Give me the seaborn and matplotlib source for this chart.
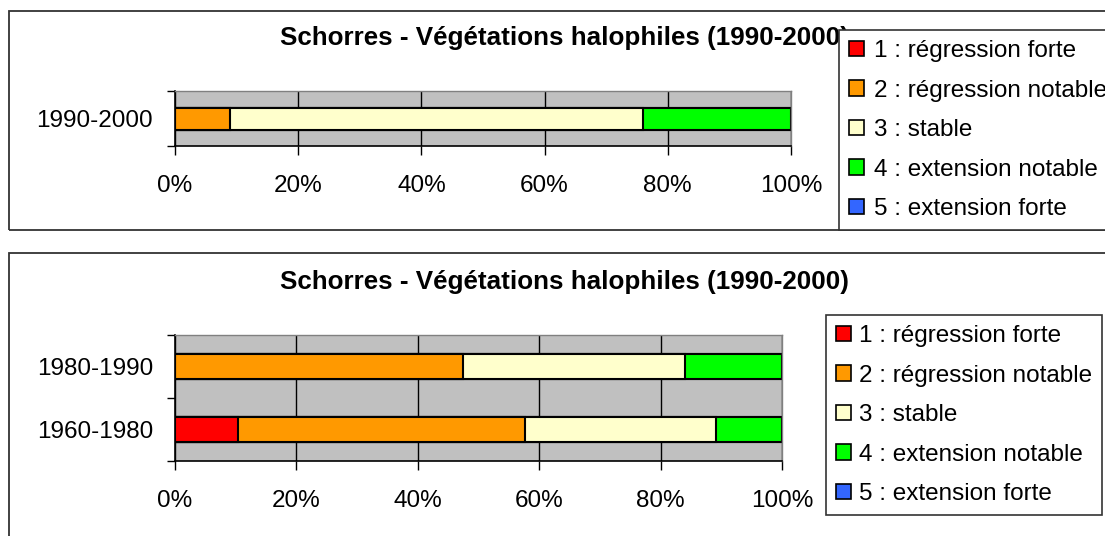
import matplotlib
matplotlib.use("Agg")
import matplotlib.pyplot as plt
from matplotlib.patches import Patch, Rectangle
import numpy as np
import seaborn as sns

# legend classes and their colours
classes = ["1 : régression forte", "2 : régression notable", "3 : stable",
           "4 : extension notable", "5 : extension forte"]
colors = ["#FF0000", "#FF9900", "#FFFFCC", "#00FF00", "#3366FF"]

title = "Schorres - Végétations halophiles (1990-2000)"

# share (%) of each class, one row per period
top_periods = ["1990-2000"]
top_values = [[0, 9, 67, 24, 0]]

bottom_periods = ["1980-1990", "1960-1980"]
bottom_values = [[0, 47.5, 36.5, 16, 0],
                 [10.4, 47.3, 31.5, 10.8, 0]]

xticks = [0, 20, 40, 60, 80, 100]
xtick_labels = [f"{v}%" for v in xticks]

plt.rcParams["font.family"] = ["Liberation Sans", "DejaVu Sans"]

W, H = 1105, 536
fig = plt.figure(figsize=(W / 100, H / 100), dpi=100)
fig.patch.set_facecolor("white")


def box(l, t, r, b):
    # pixel box (from top-left) -> figure fraction rect
    return [l / W, 1 - b / H, (r - l) / W, (b - t) / H]


def draw_panel(rect, periods, values):
    ax = fig.add_axes(rect)
    cum = np.array(values).cumsum(axis=1)
    # stacked bars: draw cumulative totals from the last class to the first
    for i in range(len(classes) - 1, -1, -1):
        sns.barplot(x=cum[:, i], y=periods, color=colors[i], saturation=1,
                    width=0.4, edgecolor="black", linewidth=1.5,
                    errorbar=None, orient="h", ax=ax)
    n = len(periods)
    ax.set_facecolor("#C0C0C0")
    ax.set_xlim(0, 100)
    ax.set_ylim(n - 0.5, -0.5)
    ax.set_xticks(xticks, xtick_labels)
    ax.set_yticks(range(n), periods)
    ax.set_yticks(np.arange(n + 1) - 0.5, minor=True)
    ax.set_xlabel("")
    ax.set_ylabel("")
    ax.grid(axis="x", color="black", linewidth=1)
    ax.set_axisbelow(True)
    ax.tick_params(axis="x", length=6.5, width=1, pad=14.5, labelsize=17.5)
    ax.tick_params(axis="y", which="major", length=0, pad=15.8, labelsize=17.5)
    ax.tick_params(axis="y", which="minor", length=5.8, width=1)
    for side in ["left", "bottom"]:
        ax.spines[side].set_color("black")
        ax.spines[side].set_linewidth(1.2)
    for side in ["top", "right"]:
        ax.spines[side].set_color("#808080")
        ax.spines[side].set_linewidth(1)
    return ax


def draw_frame(l, t, r, b):
    fig.add_artist(Rectangle((l / W, 1 - b / H), (r - l) / W, (b - t) / H,
                             transform=fig.transFigure, fill=False,
                             edgecolor="#333333", linewidth=1.3, zorder=0))


def draw_legend(x, y, textpad):
    handles = [Patch(facecolor=c, edgecolor="black", linewidth=1.2) for c in colors]
    leg = fig.legend(handles, classes, loc="upper left",
                     bbox_to_anchor=(x / W, 1 - y / H),
                     bbox_transform=fig.transFigure, borderaxespad=0,
                     frameon=True, fancybox=False, framealpha=1,
                     edgecolor="#333333", fontsize=17.5,
                     handlelength=0.6, handleheight=0.6, handletextpad=textpad,
                     borderpad=0.42, labelspacing=0.72)
    leg.get_frame().set_linewidth(1.2)
    return leg


# top panel
draw_frame(9, 11, 1200, 230)
draw_panel(box(175, 91, 791, 146), top_periods, top_values)
fig.text(564 / W, 1 - 45 / H, title, ha="center", va="baseline",
         fontsize=18.7, fontweight="bold")
draw_legend(839, 30, 0.42)

# bottom panel
draw_frame(9, 253, 1200, 600)
draw_panel(box(175, 335, 782, 461), bottom_periods, bottom_values)
fig.text(564 / W, 1 - 289 / H, title, ha="center", va="baseline",
         fontsize=18.7, fontweight="bold")
draw_legend(826, 315, 0.33)

fig.savefig("out.png", dpi=100)
